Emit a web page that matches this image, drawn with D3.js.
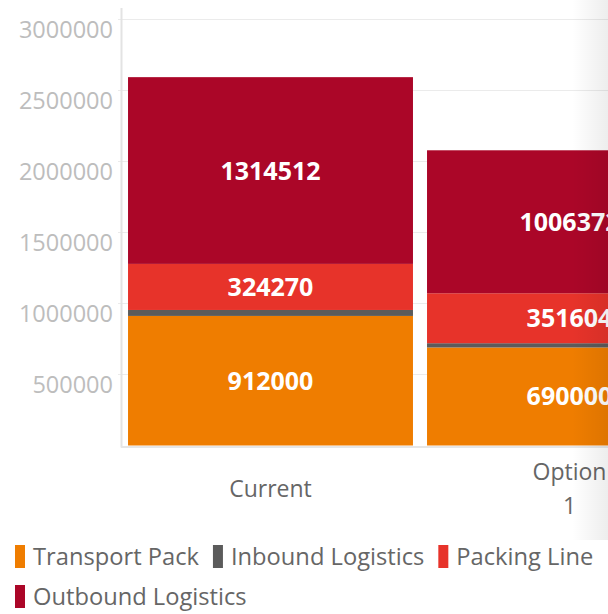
<!DOCTYPE html>
<html>
  <head>
    <meta charset="utf-8">
    <title>Cost by option</title>
    <script src="https://d3js.org/d3.v7.min.js"></script>
    <style type="text/css">
    body { margin: 0; background: #fff; }
    svg { display: block; font-family: "Segoe UI", "Open Sans", sans-serif; }
    </style>
  </head>
  <body>
  <script type="text/javascript">

    // chart data
    var categories = ["Current", "Option 1"];
    var seriesNames = ["Transport Pack", "Inbound Logistics", "Packing Line", "Outbound Logistics"];
    var seriesColors = ["#ef7d00", "#5b5b5b", "#e7332a", "#ab0628"];
    var transportPack     = [912000, 690000];
    var inboundLogistics  = [42000, 30000];
    var packingLine       = [324270, 351604];
    var outboundLogistics = [1314512, 1006372];
    var yTicks = [500000, 1000000, 1500000, 2000000, 2500000, 3000000];

    var W = 608, H = 614;
    var plotLeft = 121, plotBottom = 445.5, plotTop = 19.3;

    var svg = d3.select("body").append("svg")
      .attr("width", W)
      .attr("height", H);

    var y = d3.scaleLinear().domain([0, 3000000]).range([plotBottom, plotTop]);
    var x = d3.scaleBand().domain(categories)
      .range([plotLeft, plotLeft + 299 * categories.length])
      .paddingInner(0.047).paddingOuter(0.0235);

    // gridlines
    svg.append("g").selectAll("line")
      .data(yTicks)
      .enter().append("line")
      .attr("x1", plotLeft - 3).attr("x2", W)
      .attr("y1", function(d){ return Math.round(y(d)) + 0.5; })
      .attr("y2", function(d){ return Math.round(y(d)) + 0.5; })
      .attr("stroke", "#ebebeb");

    // axis lines
    svg.append("line")
      .attr("x1", plotLeft + 0.5).attr("x2", plotLeft + 0.5)
      .attr("y1", 8).attr("y2", plotBottom + 2)
      .attr("stroke", "#e3e3e3").attr("stroke-width", 2);
    svg.append("line")
      .attr("x1", plotLeft).attr("x2", W)
      .attr("y1", plotBottom + 1.5).attr("y2", plotBottom + 1.5)
      .attr("stroke", "#e6e6e6").attr("stroke-width", 2);

    // y labels (sit a bit under their gridline, like the original)
    svg.append("g").selectAll("text")
      .data(yTicks)
      .enter().append("text")
      .attr("x", 113)
      .attr("y", function(d){ return y(d) + 19; })
      .attr("text-anchor", "end")
      .attr("fill", "#bdbdbd")
      .style("font-size", "23.5px")
      .text(function(d){ return d; });

    // stack it
    var rows = categories.map(function(c, i){
      return {cat: c, s0: transportPack[i], s1: inboundLogistics[i], s2: packingLine[i], s3: outboundLogistics[i]};
    });
    var stack = d3.stack().keys(["s0", "s1", "s2", "s3"])(rows);

    var layers = svg.append("g").selectAll("g")
      .data(stack)
      .enter().append("g")
      .attr("fill", function(d, i){ return seriesColors[i]; });

    layers.selectAll("rect")
      .data(function(d){ return d; })
      .enter().append("rect")
      .attr("x", function(d){ return x(d.data.cat); })
      .attr("width", x.bandwidth())
      .attr("y", function(d){ return y(d[1]); })
      .attr("height", function(d){ return y(d[0]) - y(d[1]); });

    // value labels, only where there is room
    layers.each(function(layer){
      d3.select(this).selectAll("text")
        .data(layer.filter(function(d){ return y(d[0]) - y(d[1]) > 25; }))
        .enter().append("text")
        .attr("x", function(d){ return x(d.data.cat) + x.bandwidth() / 2; })
        .attr("y", function(d){ return (y(d[0]) + y(d[1])) / 2 + 9; })
        .attr("text-anchor", "middle")
        .attr("fill", "#fff")
        .style("font-size", "25px")
        .style("font-weight", "700")
        .text(function(d){ return d[1] - d[0]; });
    });

    // category labels, wrapped on spaces
    var cats = svg.append("g").selectAll("text")
      .data(categories)
      .enter().append("text")
      .attr("text-anchor", "middle")
      .attr("fill", "#666")
      .style("font-size", "23px");
    cats.each(function(c){
      var words = c.split(" ");
      var t = d3.select(this);
      var y0 = 497 - (words.length - 1) * 34 / 2;
      words.forEach(function(w, j){
        t.append("tspan")
          .attr("x", x(c) + x.bandwidth() / 2)
          .attr("y", y0 + j * 34)
          .text(w);
      });
    });

    // legend
    var lx = 15, ly = 557;
    var legend = svg.append("g");
    seriesNames.forEach(function(name, i){
      var g = legend.append("g");
      var txt = g.append("text")
        .attr("fill", "#666")
        .style("font-size", "23.7px")
        .text(name);
      var w = txt.node().getComputedTextLength();
      if (lx + 18 + w > W - 5) { lx = 15; ly += 40; }
      g.append("rect")
        .attr("x", lx).attr("y", ly - 12)
        .attr("width", 10).attr("height", 23)
        .attr("fill", seriesColors[i]);
      txt.attr("x", lx + 18).attr("y", ly + 8);
      lx += 18 + w + 14;
    });

    // soft edge on the right where the chart is scrolled off
    var grad = svg.append("defs").append("linearGradient")
      .attr("id", "edge").attr("x1", "0").attr("x2", "1");
    grad.append("stop").attr("offset", "0").attr("stop-color", "#000").attr("stop-opacity", 0);
    grad.append("stop").attr("offset", "1").attr("stop-color", "#000").attr("stop-opacity", 0.07);
    svg.append("rect")
      .attr("x", 572).attr("y", 0)
      .attr("width", W - 572).attr("height", 540)
      .attr("fill", "url(#edge)");

  </script>
  </body>
</html>
